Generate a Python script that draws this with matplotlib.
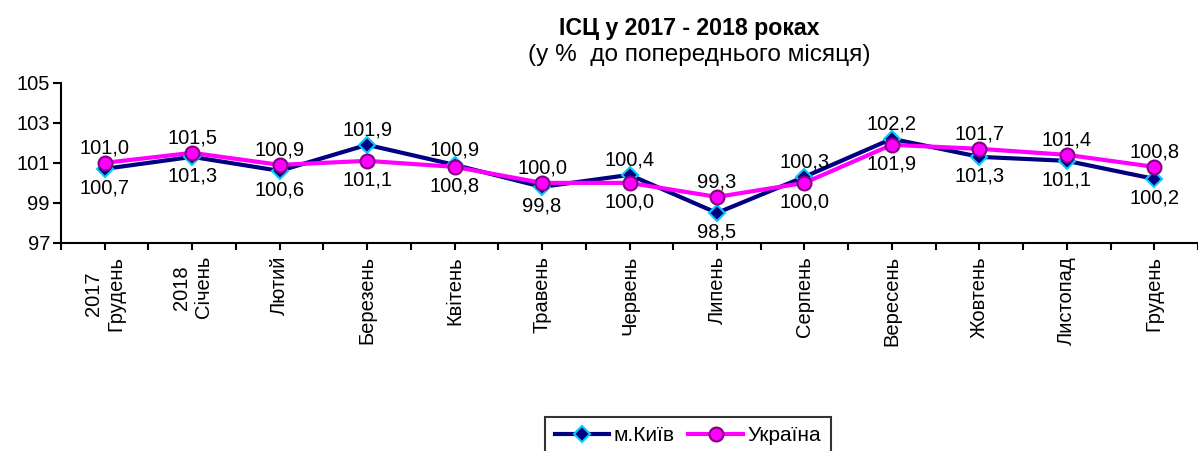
import matplotlib
matplotlib.use('Agg')
import matplotlib.pyplot as plt
import numpy as np

plt.rcParams['font.family'] = ['Liberation Sans', 'DejaVu Sans']

# months (first two carry the year)
months = ['2017\nГрудень', '2018\nСічень', 'Лютий', 'Березень', 'Квітень',
          'Травень', 'Червень', 'Липень', 'Серпень', 'Вересень',
          'Жовтень', 'Листопад', 'Грудень']
kyiv = [100.7, 101.3, 100.6, 101.9, 100.9, 99.8, 100.4, 98.5, 100.3, 102.2,
        101.3, 101.1, 100.2]
ukraine = [101.0, 101.5, 100.9, 101.1, 100.8, 100.0, 100.0, 99.3, 100.0,
           101.9, 101.7, 101.4, 100.8]

# label placement: +1 above the point, -1 below
kyiv_pos = [-1, -1, -1, 1, 1, -1, 1, -1, 1, 1, -1, -1, -1]
ukr_pos = [1, 1, 1, -1, -1, 1, -1, 1, -1, -1, 1, 1, 1]

FS = 14.5

fig = plt.figure(figsize=(11.98, 4.51), dpi=100)
ax = fig.add_axes([61/1198, 1-243/451, 1-61/1198, (243-82.7)/451])

x = np.arange(len(months))
l1, = ax.plot(x, kyiv, color='#000080', lw=3, marker='D', ms=8.5,
              mfc='#000080', mec='#00CCFF', mew=1.5, label='м.Київ', zorder=3)
l2, = ax.plot(x, ukraine, color='#FF00FF', lw=3, marker='o', ms=10,
              mfc='#FF00FF', mec='#800080', mew=1.5, label='Україна', zorder=4)

def fmt(v):
    return f'{v:.1f}'.replace('.', ',')

for xi, v, p in zip(x, kyiv, kyiv_pos):
    ax.annotate(fmt(v), (xi, v), xytext=(0, 4 if p > 0 else -7),
                textcoords='offset points', ha='center',
                va='bottom' if p > 0 else 'top', fontsize=FS, zorder=5)
for xi, v, p in zip(x, ukraine, ukr_pos):
    ax.annotate(fmt(v), (xi, v), xytext=(0, 4 if p > 0 else -7),
                textcoords='offset points', ha='center',
                va='bottom' if p > 0 else 'top', fontsize=FS, zorder=5)

ax.set_xlim(-0.5, len(months) - 0.5)
ax.set_ylim(97, 105)
ax.set_yticks([97, 99, 101, 103, 105])
ax.tick_params(axis='y', labelsize=FS, length=6, width=1.5, direction='out',
               pad=2)

ax.set_xticks(np.arange(-0.5, len(months), 0.5))
ax.set_xticklabels([])
ax.tick_params(axis='x', length=5, width=1.5, direction='out')
for xi, m in zip(x, months):
    ax.text(xi, 96.35, m, rotation=90, ha='center', va='top', fontsize=FS,
            multialignment='center')

for s in ['top', 'right']:
    ax.spines[s].set_visible(False)
for s in ['left', 'bottom']:
    ax.spines[s].set_linewidth(1.5)

fig.text(689/1198, 1-35/451, 'ІСЦ у 2017 - 2018 роках', ha='center',
         va='baseline', fontsize=16.7, fontweight='bold')
fig.text(699/1198, 1-61/451, '(у %  до попереднього місяця)', ha='center',
         va='baseline', fontsize=17.6)

leg = fig.legend(handles=[l1, l2], loc='upper center',
                 bbox_to_anchor=(688/1198, 1-417/451), ncol=2, fontsize=15,
                 frameon=True, fancybox=False, edgecolor='black',
                 handlelength=2.6, columnspacing=0.65, handletextpad=0.25,
                 borderaxespad=0, borderpad=0.45)
leg.get_frame().set_linewidth(1.5)

fig.savefig('out.png', dpi=100)
